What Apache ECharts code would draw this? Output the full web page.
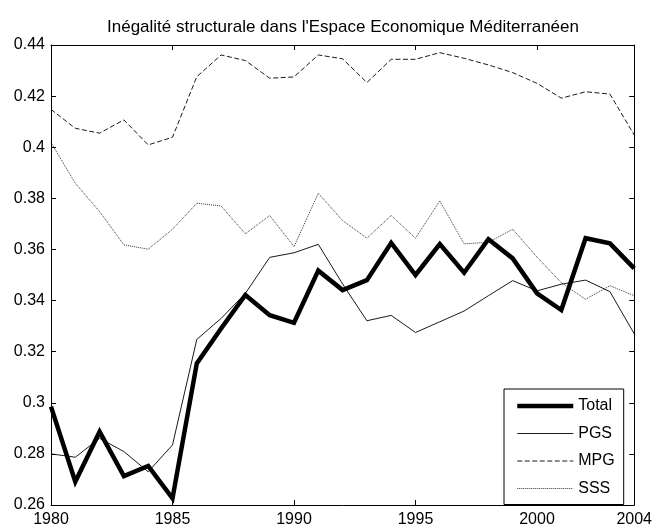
<!DOCTYPE html>
<html>
<head>
<meta charset="utf-8">
<script src="https://cdn.jsdelivr.net/npm/echarts@6/dist/echarts.min.js"></script>
<style>html,body{margin:0;padding:0;background:#fff}#c{width:655px;height:529px}</style>
</head>
<body>
<div id="c"></div>
<script>
const years = [1980,1981,1982,1983,1984,1985,1986,1987,1988,1989,1990,1991,1992,1993,1994,1995,1996,1997,1998,1999,2000,2001,2002,2003,2004];
const total = [0.2985,0.2691,0.2887,0.2713,0.2753,0.2626,0.3154,0.3291,0.3422,0.3343,0.3313,0.3517,0.3441,0.3480,0.3626,0.3500,0.3621,0.3509,0.3640,0.3565,0.3428,0.3363,0.3644,0.3624,0.3526];
const pgs   = [0.2800,0.2787,0.2861,0.2809,0.2730,0.2835,0.3248,0.3330,0.3428,0.3569,0.3587,0.3620,0.3465,0.3321,0.3342,0.3275,0.3317,0.3359,0.3419,0.3478,0.3438,0.3464,0.3480,0.3435,0.3270];
const mpg   = [0.4148,0.4074,0.4055,0.4107,0.4009,0.4039,0.4276,0.4361,0.4339,0.4270,0.4275,0.4361,0.4346,0.4253,0.4344,0.4344,0.4370,0.4348,0.4322,0.4292,0.4250,0.4192,0.4217,0.4208,0.4048];
const sss   = [0.4018,0.3859,0.3748,0.3618,0.3601,0.3679,0.3781,0.3770,0.3661,0.3733,0.3611,0.3820,0.3713,0.3644,0.3733,0.3644,0.3790,0.3622,0.3628,0.3679,0.3570,0.3470,0.3405,0.3458,0.3419];
const xLabels = [1980,1985,1990,1995,2000,2004];
const xTicks = [1985,1990,1995,2000];
const titleText = "Inégalité structurale dans l'Espace Economique Méditerranéen";

const pairs = arr => years.map((y,i) => [y, arr[i]]);
const font = 'Liberation Sans, Arial, sans-serif';
const chart = echarts.init(document.getElementById('c'), null, {renderer:'canvas'});
const axisCommon = {
  axisLine:{show:true, onZero:false, lineStyle:{color:'#000', width:1}},
  axisTick:{show:true, inside:true, length:5, lineStyle:{color:'#000', width:1}},
  splitLine:{show:false}
};
const styles = {
  Total:{color:'#000', width:4.5, type:'solid'},
  PGS:{color:'#000', width:0.9, type:'solid'},
  MPG:{color:'#000', width:0.9, type:[5,2.5]},
  SSS:{color:'#000', width:0.8, type:[1,1]}
};
const hidden = {opacity:0, color:'rgba(0,0,0,0)', borderWidth:0};
const legendText = {fontFamily:font, fontSize:16, fontWeight:'normal', color:'#000',
  textBorderWidth:0, textBorderColor:'transparent', textShadowBlur:0, textShadowColor:'transparent'};
chart.setOption({
  backgroundColor:'#fff',
  animation:false,
  title:{text:titleText, left:338, top:14, textAlign:'center',
    textStyle:{fontFamily:font, fontSize:17, fontWeight:'normal', color:'#000'}},
  grid:{left:51, top:45, width:585, height:460, containLabel:false},
  legend:{
    left:504, top:389, orient:'vertical',
    data:['Total','PGS','MPG','SSS'].map(n => ({name:n, itemStyle:hidden, lineStyle:styles[n],
      textStyle:legendText})),
    itemWidth:56, itemHeight:14, itemGap:11.5,
    padding:[9,9,8,11],
    borderColor:'#000', borderWidth:1, backgroundColor:'#fff',
    textStyle:legendText
  },
  xAxis:[
    Object.assign({type:'value', min:1980, max:2004, position:'bottom',
      axisLabel:{customValues:xLabels, fontFamily:font, fontSize:16, color:'#000', margin:7,
        formatter: v => String(v), showMinLabel:true, showMaxLabel:true}},
      axisCommon, {axisTick:Object.assign({}, axisCommon.axisTick, {customValues:xTicks})}),
    Object.assign({type:'value', min:1980, max:2004, position:'top',
      axisLabel:{show:false}}, axisCommon,
      {axisTick:Object.assign({}, axisCommon.axisTick, {customValues:xTicks})})
  ],
  yAxis:[
    Object.assign({type:'value', min:0.26, max:0.44, interval:0.02, position:'left',
      axisLabel:{fontFamily:font, fontSize:16, color:'#000', margin:6,
        formatter: v => String(parseFloat(v.toFixed(2)))}}, axisCommon),
    Object.assign({type:'value', min:0.26, max:0.44, interval:0.02, position:'right',
      axisLabel:{show:false}}, axisCommon)
  ],
  series:[
    {name:'Total', type:'line', data:pairs(total), symbol:'none',
      lineStyle:Object.assign({join:'miter'}, styles.Total), itemStyle:{color:'#000'}, z:3},
    {name:'PGS', type:'line', data:pairs(pgs), symbol:'none',
      lineStyle:styles.PGS, itemStyle:{color:'#000'}, z:4},
    {name:'MPG', type:'line', data:pairs(mpg), symbol:'none',
      lineStyle:styles.MPG, itemStyle:{color:'#000'}, z:4},
    {name:'SSS', type:'line', data:pairs(sss), symbol:'none',
      lineStyle:styles.SSS, itemStyle:{color:'#000'}, z:4}
  ]
});
</script>
</body>
</html>
